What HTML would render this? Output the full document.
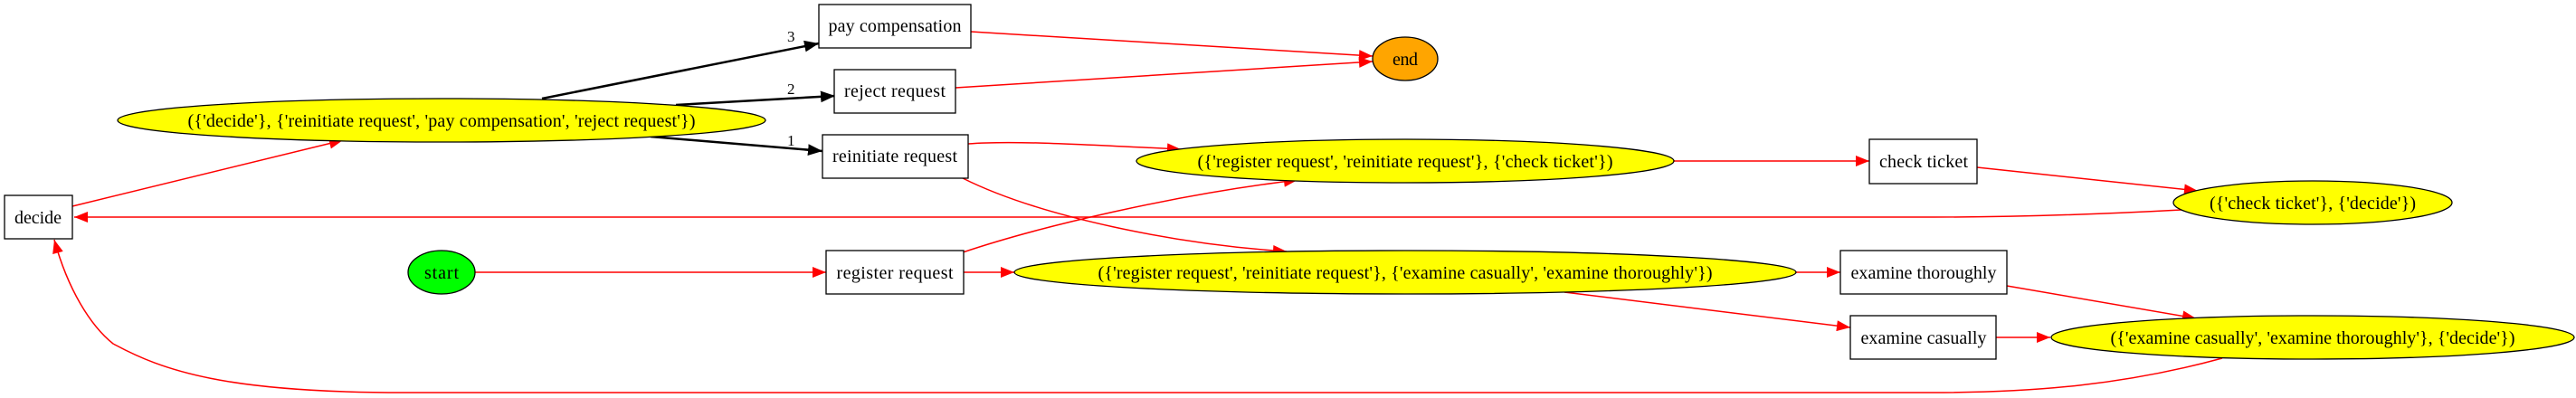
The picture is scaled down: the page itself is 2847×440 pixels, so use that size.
<!DOCTYPE html>
<html><head><meta charset="utf-8"><style>html,body{margin:0;padding:0;background:#fff}svg{display:block}</style></head>
<body>
<svg width="2847" height="440" viewBox="0 0 2847 440" xmlns="http://www.w3.org/2000/svg" font-family="Liberation Serif, serif" font-size="20">
<defs>
<marker id="r" markerWidth="10" markerHeight="8" refX="10" refY="4" orient="auto" markerUnits="userSpaceOnUse"><path d="M0,0 L10,4 L0,8 Z" fill="red"/></marker>
<marker id="rb" viewBox="0 0 10 8" markerWidth="16" markerHeight="12" refX="10" refY="4" orient="auto" markerUnits="userSpaceOnUse"><path d="M0,0 L10,4 L0,8 Z" fill="red"/></marker>
<marker id="k" viewBox="0 0 10 8" markerWidth="16" markerHeight="13" refX="10" refY="4" orient="auto" markerUnits="userSpaceOnUse"><path d="M0,0 L10,4 L0,8 Z" fill="#000"/></marker>
</defs>
<g fill="none" stroke="red" stroke-width="1.5">
<path d="M80,228 L379,155" marker-end="url(#rb)"/>
<path d="M2411,232 C2300,238 2200,240 2137,240 L82,240" marker-end="url(#rb)"/>
<path d="M2456,396 C2350,425 2250,434 2137,434 L446,434 C250,434 180,410 125,380 C100,360 75,320 60,265" marker-end="url(#rb)"/>
<path d="M525,301 L913,301" marker-end="url(#rb)"/>
<path d="M1073,35 L1517,62" marker-end="url(#rb)"/>
<path d="M1056,97 L1517,68" marker-end="url(#rb)"/>
<path d="M1070,159 C1120,155 1200,160 1305,165" marker-end="url(#rb)"/>
<path d="M1064,197 C1150,240 1300,270 1422,278" marker-end="url(#rb)"/>
<path d="M1064,279 C1150,250 1300,215 1434,199" marker-end="url(#rb)"/>
<path d="M1065,301 L1121,301" marker-end="url(#rb)"/>
<path d="M1729,323 L2045,362" marker-end="url(#rb)"/>
<path d="M1850,178 L2066,178" marker-end="url(#rb)"/>
<path d="M2185,185 L2429,211" marker-end="url(#rb)"/>
<path d="M1985,301 L2034,301" marker-end="url(#rb)"/>
<path d="M2218,316 L2427,352" marker-end="url(#rb)"/>
<path d="M2206,373 L2266,373" marker-end="url(#rb)"/>
</g>
<g fill="none" stroke="#000" stroke-width="2.5">
<path d="M599,109 L905,48" marker-end="url(#k)"/>
<path d="M747,116 L923,106" marker-end="url(#k)"/>
<path d="M719,151 L909,167" marker-end="url(#k)"/>
</g>
<g font-size="17"><text x="870" y="46">3</text><text x="870" y="104">2</text><text x="870" y="161">1</text></g>
<g stroke="#000" stroke-width="1.3">
<rect x="5" y="216" width="75" height="48" fill="#fff"/>
<ellipse cx="488" cy="133" rx="358" ry="24" fill="#ff0"/>
<rect x="905" y="5" width="168" height="48" fill="#fff"/>
<rect x="922" y="77" width="134" height="48" fill="#fff"/>
<rect x="909" y="149" width="161" height="48" fill="#fff"/>
<rect x="913" y="277" width="152" height="48" fill="#fff"/>
<ellipse cx="488" cy="301" rx="37" ry="24" fill="#0f0"/>
<ellipse cx="1553" cy="65" rx="36" ry="24" fill="#ffa500"/>
<ellipse cx="1553" cy="178" rx="297" ry="24" fill="#ff0"/>
<ellipse cx="1553" cy="301" rx="432" ry="24" fill="#ff0"/>
<rect x="2066" y="154" width="119" height="49" fill="#fff"/>
<ellipse cx="2556" cy="224" rx="154" ry="24" fill="#ff0"/>
<rect x="2034" y="277" width="184" height="48" fill="#fff"/>
<rect x="2045" y="349" width="161" height="48" fill="#fff"/>
<ellipse cx="2556" cy="373" rx="289" ry="24" fill="#ff0"/>
</g>
<g text-anchor="middle" lengthAdjust="spacingAndGlyphs">
<text x="42" y="247" textLength="52">decide</text>
<text x="488" y="140" textLength="561">({'decide'}, {'reinitiate request', 'pay compensation', 'reject request'})</text>
<text x="989" y="35" textLength="147">pay compensation</text>
<text x="989" y="107" textLength="112">reject request</text>
<text x="989" y="179" textLength="138">reinitiate request</text>
<text x="989" y="308" textLength="129">register request</text>
<text x="488" y="308" textLength="38">start</text>
<text x="1553" y="72" textLength="28">end</text>
<text x="1553" y="185" textLength="459">({'register request', 'reinitiate request'}, {'check ticket'})</text>
<text x="1553" y="308" textLength="679">({'register request', 'reinitiate request'}, {'examine casually', 'examine thoroughly'})</text>
<text x="2126" y="185" textLength="98">check ticket</text>
<text x="2556" y="231" textLength="228">({'check ticket'}, {'decide'})</text>
<text x="2126" y="308" textLength="161">examine thoroughly</text>
<text x="2126" y="380" textLength="139">examine casually</text>
<text x="2556" y="380" textLength="447">({'examine casually', 'examine thoroughly'}, {'decide'})</text>
</g>
</svg>
</body></html>
